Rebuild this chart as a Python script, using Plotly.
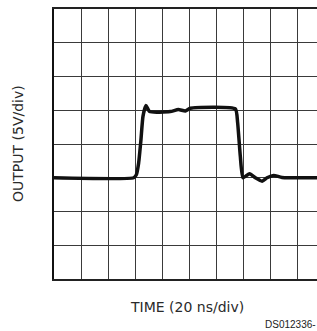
import plotly.graph_objects as go

# Waveform (time in ns, output in V)
time_ns = [0, 59.0, 60.9, 62.7, 64.4, 65.9, 68.1, 70.8, 86.1, 92.1, 97.3, 101.0,
           134.3, 136.0, 138.0, 140.0, 144.9, 149.1, 154.1, 157.8, 162.7, 168.9, 195]
output_v = [0, 0, 0.4, 2.2, 5.6, 9.1, 10.7, 9.8, 9.8, 10.1, 9.9, 10.3,
            10.2, 8.2, 3.2, 0.0, 0.6, 0.0, -0.5, 0.0, 0.35, 0.05, 0.0]

x_label = "TIME (20 ns/div)"
y_label = "OUTPUT (5V/div)"
fig_id = "DS012336-"

W, H = 317, 331
L, R, T, B = 54, 0, 9, 52
pw = W - L - R
ph = H - T - B

fig = go.Figure()
fig.add_trace(go.Scatter(x=time_ns, y=output_v, mode="lines",
                         line=dict(color="#111111", width=3.5, shape="spline", smoothing=0.5),
                         hoverinfo="skip", showlegend=False))

xmax = pw / 27 * 20
fig.update_layout(
    width=W, height=H,
    margin=dict(l=L, r=R, t=T, b=B),
    paper_bgcolor="white", plot_bgcolor="white",
    xaxis=dict(range=[0, xmax], dtick=20, tick0=0, showticklabels=False, ticks="",
               showgrid=True, gridcolor="#3a3a3a", gridwidth=1, zeroline=False,
               showline=True, linecolor="#222222", linewidth=2, mirror=True, fixedrange=True),
    yaxis=dict(range=[-15, 25], dtick=5, tick0=0, showticklabels=False, ticks="",
               showgrid=True, gridcolor="#3a3a3a", gridwidth=1, zeroline=False,
               showline=True, linecolor="#111111", linewidth=2, mirror=False, fixedrange=True),
    annotations=[
        dict(text=x_label, xref="paper", yref="paper",
             x=(187 - L) / pw, y=(T + ph - 307) / ph, xanchor="center", yanchor="middle",
             showarrow=False, font=dict(family="DejaVu Sans", size=14, color="#2a2a2a")),
        dict(text=y_label, xref="paper", yref="paper", textangle=-90,
             x=(18 - L) / pw, y=0.5, xanchor="center", yanchor="middle",
             showarrow=False, font=dict(family="DejaVu Sans", size=14, color="#2a2a2a")),
        dict(text=fig_id, xref="paper", yref="paper",
             x=(263 - L) / pw, y=(T + ph - 324) / ph, xanchor="left", yanchor="middle",
             showarrow=False, font=dict(family="Liberation Sans", size=10, color="#222222")),
    ],
)

fig.write_html("out.html", config={"displayModeBar": False},
               post_script="document.body.style.margin='0';document.body.style.overflow='hidden';")
